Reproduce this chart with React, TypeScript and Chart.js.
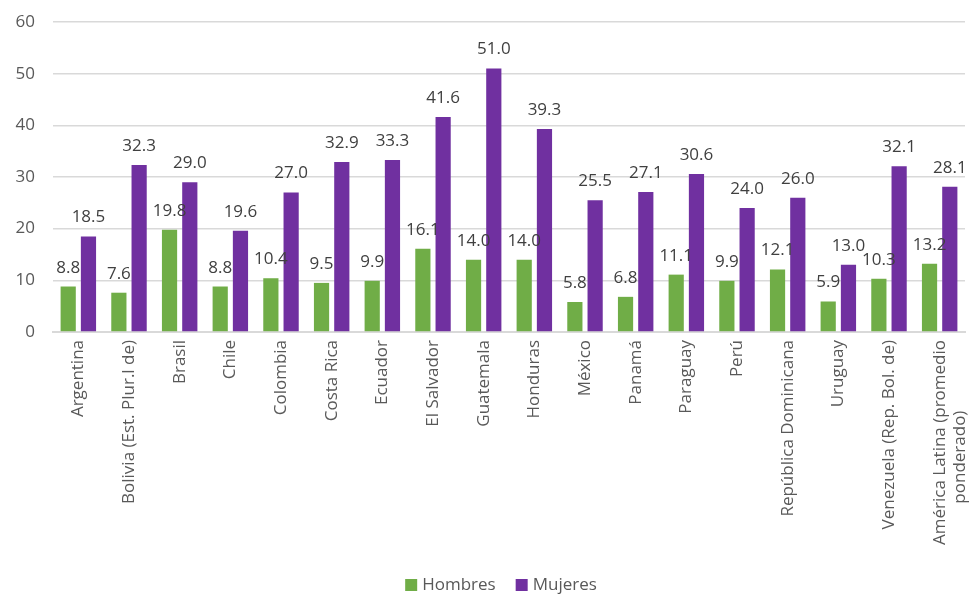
import React, { useEffect, useRef } from "react";
import { Chart, registerables } from "chart.js";

Chart.register(...registerables);

const categories: (string | string[])[] = [
  "Argentina",
  "Bolivia (Est. Plur.l de)",
  "Brasil",
  "Chile",
  "Colombia",
  "Costa Rica",
  "Ecuador",
  "El Salvador",
  "Guatemala",
  "Honduras",
  "México",
  "Panamá",
  "Paraguay",
  "Perú",
  "República Dominicana",
  "Uruguay",
  "Venezuela (Rep. Bol. de)",
  ["América Latina (promedio", "ponderado)                "],
];

const hombres = [8.8, 7.6, 19.8, 8.8, 10.4, 9.5, 9.9, 16.1, 14.0, 14.0, 5.8, 6.8, 11.1, 9.9, 12.1, 5.9, 10.3, 13.2];
const mujeres = [18.5, 32.3, 29.0, 19.6, 27.0, 32.9, 33.3, 41.6, 51.0, 39.3, 25.5, 27.1, 30.6, 24.0, 26.0, 13.0, 32.1, 28.1];

const seriesNames = ["Hombres", "Mujeres"];
const yTicks = { min: 0, max: 60, step: 10 };

const FONT = "'Open Sans', sans-serif";

const dataLabels = {
  id: "dataLabels",
  afterDatasetsDraw(chart: any) {
    const ctx = chart.ctx;
    ctx.save();
    ctx.font = `17px ${FONT}`;
    ctx.fillStyle = "#404040";
    ctx.textAlign = "center";
    ctx.textBaseline = "alphabetic";
    chart.data.datasets.forEach((ds: any, di: number) => {
      const meta = chart.getDatasetMeta(di);
      meta.data.forEach((bar: any, i: number) => {
        const v = ds.data[i] as number;
        ctx.fillText(v.toFixed(1), bar.x, bar.y - 14);
      });
    });
    ctx.restore();
  },
};

// legend drawn at the bottom, built from the chart's datasets
const bottomLegend = {
  id: "bottomLegend",
  afterDraw(chart: any) {
    const ctx = chart.ctx;
    ctx.save();
    ctx.font = `17px ${FONT}`;
    ctx.textBaseline = "middle";
    ctx.textAlign = "left";
    const box = 12;
    const gapText = 5;
    const gapItem = 20;
    const items = chart.data.datasets.map((ds: any) => ({
      label: ds.label,
      color: ds.backgroundColor,
      w: box + gapText + ctx.measureText(ds.label).width,
    }));
    const total = items.reduce((s: number, it: any) => s + it.w, 0) + gapItem * (items.length - 1);
    let x = (chart.chartArea.left + chart.chartArea.right) / 2 - total / 2 - 8;
    const y = 585;
    items.forEach((it: any) => {
      ctx.fillStyle = it.color;
      ctx.fillRect(x, y - box / 2, box, box);
      ctx.fillStyle = "#595959";
      ctx.fillText(it.label, x + box + gapText, y);
      x += it.w + gapItem;
    });
    ctx.restore();
  },
};

export default function App() {
  const ref = useRef<HTMLCanvasElement>(null);
  useEffect(() => {
    document.body.style.margin = "0";
    const chart = new Chart(ref.current!, {
      type: "bar",
      data: {
        labels: categories,
        datasets: [
          {
            label: seriesNames[0],
            data: hombres,
            backgroundColor: "#70AD47",
            categoryPercentage: 0.8,
            barPercentage: 0.75,
          },
          {
            label: seriesNames[1],
            data: mujeres,
            backgroundColor: "#7030A0",
            categoryPercentage: 0.8,
            barPercentage: 0.75,
          },
        ],
      },
      options: {
        animation: false,
        responsive: false,
        maintainAspectRatio: false,
        layout: { padding: { left: 0, right: 7, top: 22, bottom: 40 } },
        plugins: {
          legend: { display: false },
          tooltip: { enabled: false },
        },
        scales: {
          x: {
            grid: { display: false, drawTicks: false },
            border: { color: "#d9d9d9", width: 2 },
            ticks: {
              color: "#595959",
              font: { family: FONT, size: 17 },
              minRotation: 90,
              maxRotation: 90,
              autoSkip: false,
              padding: 8,
            },
            afterFit(scale: any) {
              scale.height += 2;
              scale.paddingLeft = 0;
              scale.paddingRight = 0;
            },
          },
          y: {
            min: yTicks.min,
            max: yTicks.max,
            grid: { color: "#d9d9d9", lineWidth: 1.5, drawTicks: false },
            border: { display: false },
            ticks: {
              stepSize: yTicks.step,
              color: "#595959",
              font: { family: FONT, size: 17 },
              padding: 18,
            },
            afterFit(scale: any) {
              scale.width = 53;
              scale.paddingTop = 0;
              scale.paddingBottom = 0;
            },
          },
        },
      },
      plugins: [dataLabels, bottomLegend],
    });
    return () => chart.destroy();
  }, []);
  return (
    <div style={{ width: 972, height: 595, background: "#fff" }}>
      <canvas ref={ref} width={972} height={595} />
    </div>
  );
}
